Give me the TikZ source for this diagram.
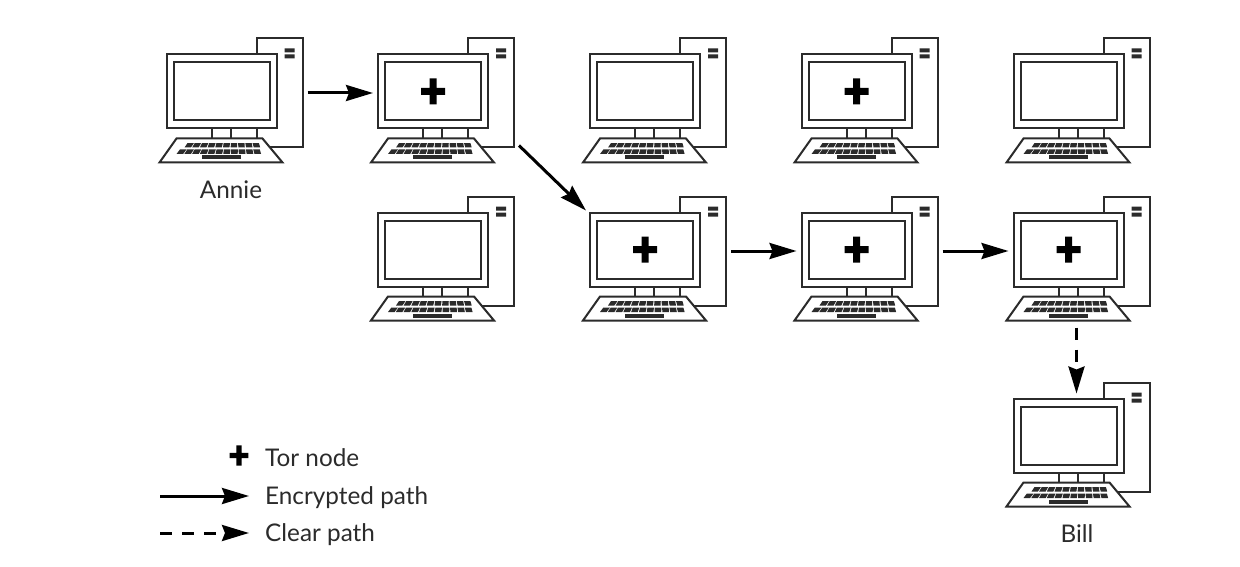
\documentclass[tikz,border=0pt]{standalone}
\usepackage{fontspec}
\setmainfont{Lato}
\usetikzlibrary{arrows.meta}

\definecolor{inkline}{HTML}{2B2B2B}
\tikzset{
  wire/.style={draw=inkline,line width=2pt,fill=white,line join=miter},
  panel/.style={wire,rectangle,inner sep=0pt,outer sep=0pt,anchor=north west},
  keycap/.style={fill=inkline,draw=none},
  encrypted/.style={draw=black,line width=3pt,-{Stealth[length=27pt,width=16pt,inset=3pt]}},
  clearpath/.style={encrypted,dash pattern=on 12pt off 10pt},
  caption/.style={font=\fontsize{24.3}{28}\selectfont,text=inkline,inner sep=0pt},
  computer/.pic={
    \draw[wire] (90,-16) rectangle (136,93);
    \fill[keycap] (118,-6) rectangle (128,-2) (118,0) rectangle (128,4);
    \draw[wire] (45,74) -- (45,84) (64,74) -- (64,84) (90,74) -- (90,84);
    \node[panel,minimum width=110pt,minimum height=74pt] (-monitor) at (0,0) {};
    \node[panel,minimum width=96pt,minimum height=58pt] (-screen) at (7,8) {};
    \draw[wire] (10,84) -- (96,84) -- (116,108) -- (-7,108) -- cycle;
    \foreach \k in {0,...,9} {
      \pgfmathsetmacro{\kx}{18+\k*7.7}
      \pgfmathsetmacro{\kt}{\kx-(\kx-50)*0.06}
      \fill[keycap] (\kx,93) -- (\kx+6.4,93) -- (\kt+7.4,88.7) -- (\kt+1,88.7) -- cycle;
    }
    \foreach \k in {0,...,10} {
      \pgfmathsetmacro{\kx}{10+\k*7.8}
      \pgfmathsetmacro{\kt}{\kx-(\kx-50)*0.06}
      \fill[keycap] (\kx,99.5) -- (\kx+6.6,99.5) -- (\kt+7.6,95) -- (\kt+1,95) -- cycle;
    }
    \fill[keycap] (35,101) rectangle (74,105);
    % connector ends
    \coordinate (-out) at (141,38.5);
    \coordinate (-in) at (-5,38.5);
    \coordinate (-outdiag) at (141,91);
    \coordinate (-indiag) at (-4,-2);
    \coordinate (-outdown) at (63,115);
    \coordinate (-indown) at (63,-5);
  },
  torplus/.pic={
    \fill[black] (-12,-3.5) rectangle (12,3.5) (-3.5,-13) rectangle (3.5,13);
  }
}

\begin{document}
\begin{tikzpicture}[x=1pt,y=-1pt]
\useasboundingbox[fill=white] (0,0) rectangle (1240,567);

\foreach \name/\px/\py in {annie/166.5/54.5,guard/378/54.5,top/590/54.5,topplus/801.5/54.5,topend/1013.5/54.5,
  spare/378/212.5,relayA/590/212.5,relayB/801.5/212.5,exit/1013.5/212.5,bill/1013.5/398.5}
  \pic (\name) at (\px,\py) {computer};

% tor nodes
\foreach \name in {guard,topplus,relayA,relayB,exit}
  \pic at (\name-monitor.center) {torplus};

\draw[encrypted] (annie-out) -- (guard-in);
\draw[encrypted] (guard-outdiag) -- (relayA-indiag);
\draw[encrypted] (relayA-out) -- (relayB-in);
\draw[encrypted] (relayB-out) -- (exit-in);
\draw[clearpath] (exit-outdown) -- (bill-indown);

\node[caption] (annielabel) at (231,190) {Annie};
\node[caption] (billlabel) at (1077,534) {Bill};

% legend
\pic[scale=0.78] (keyplus) at (239,455.5) {torplus};
\node[caption,anchor=west] (keytor) at (265,457.5) {Tor node};
\node[caption,anchor=west] (keyenc) at (265,498) {Encrypted path};
\node[caption,anchor=west] (keyclear) at (265,535) {Clear path};
\coordinate (encstart) at (160,496);
\coordinate (encend) at (249,496);
\coordinate (clearstart) at (160,533);
\coordinate (clearend) at (249,533);
\draw[encrypted] (encstart) -- (encend);
\draw[clearpath] (clearstart) -- (clearend);
\end{tikzpicture}
\end{document}
